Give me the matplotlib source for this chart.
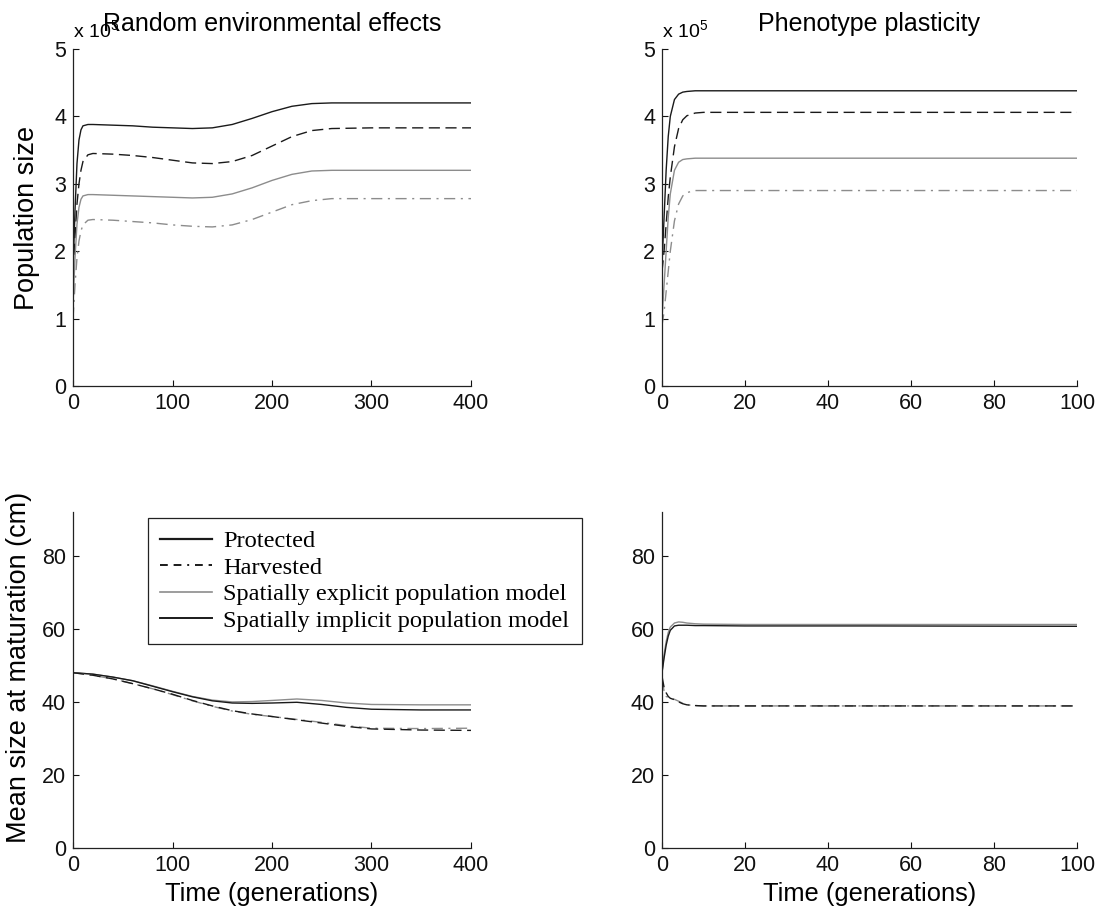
import matplotlib
matplotlib.use("Agg")
import matplotlib.pyplot as plt
from matplotlib.lines import Line2D

plt.rcParams['font.family'] = ['Liberation Sans', 'DejaVu Sans']
plt.rcParams['mathtext.default'] = 'regular'

# ---- data (population in units of 1e5, size in cm) ----
t_env = [0, 2, 4, 6, 8, 10, 15, 20, 40, 60, 80, 100, 120, 140, 160, 180, 200, 220, 240, 260, 300, 350, 400]
pop_env_prot_impl = [1.7, 2.6, 3.3, 3.65, 3.8, 3.86, 3.88, 3.88, 3.87, 3.86, 3.84, 3.83, 3.82, 3.83, 3.88, 3.97, 4.07, 4.15, 4.19, 4.2, 4.2, 4.2, 4.2]
pop_env_harv_impl = [1.7, 2.2, 2.7, 3.0, 3.2, 3.33, 3.43, 3.45, 3.44, 3.42, 3.39, 3.35, 3.31, 3.30, 3.33, 3.42, 3.56, 3.7, 3.79, 3.82, 3.83, 3.83, 3.83]
pop_env_prot_expl = [1.2, 1.9, 2.4, 2.65, 2.77, 2.82, 2.84, 2.84, 2.83, 2.82, 2.81, 2.80, 2.79, 2.80, 2.85, 2.94, 3.05, 3.14, 3.19, 3.2, 3.2, 3.2, 3.2]
pop_env_harv_expl = [1.0, 1.5, 1.9, 2.15, 2.3, 2.39, 2.46, 2.47, 2.46, 2.44, 2.42, 2.39, 2.37, 2.36, 2.39, 2.47, 2.58, 2.69, 2.75, 2.78, 2.78, 2.78, 2.78]

t_pl = [0, 0.5, 1, 1.5, 2, 3, 4, 5, 6, 8, 10, 20, 50, 100]
pop_pl_prot_impl = [1.8, 2.5, 3.2, 3.7, 4.0, 4.25, 4.33, 4.36, 4.37, 4.38, 4.38, 4.38, 4.38, 4.38]
pop_pl_harv_impl = [1.7, 2.0, 2.4, 2.8, 3.1, 3.55, 3.82, 3.95, 4.01, 4.05, 4.06, 4.06, 4.06, 4.06]
pop_pl_prot_expl = [1.0, 1.5, 2.0, 2.5, 2.85, 3.2, 3.32, 3.36, 3.37, 3.38, 3.38, 3.38, 3.38, 3.38]
pop_pl_harv_expl = [0.9, 1.1, 1.4, 1.7, 2.0, 2.45, 2.7, 2.82, 2.87, 2.9, 2.9, 2.9, 2.9, 2.9]

t_env2 = [0, 20, 40, 60, 80, 100, 120, 140, 160, 180, 200, 225, 250, 275, 300, 350, 400]
size_env_prot_expl = [48, 47.6, 46.8, 45.8, 44.4, 42.9, 41.5, 40.5, 40.0, 40.1, 40.4, 40.8, 40.4, 39.7, 39.3, 39.2, 39.2]
size_env_prot_impl = [48, 47.6, 46.8, 45.8, 44.3, 42.8, 41.4, 40.3, 39.7, 39.6, 39.7, 39.9, 39.3, 38.5, 38.0, 37.8, 37.8]
size_env_harv_impl = [48, 47.3, 46.3, 45.0, 43.6, 42.1, 40.4, 38.9, 37.6, 36.7, 36.0, 35.1, 34.2, 33.3, 32.6, 32.3, 32.2]
size_env_harv_expl = [48, 47.3, 46.3, 45.0, 43.6, 42.0, 40.3, 38.8, 37.5, 36.6, 36.0, 35.2, 34.4, 33.5, 32.8, 32.7, 32.8]

size_pl_prot_expl = [48, 53, 56.5, 59, 60.5, 61.6, 61.9, 61.8, 61.6, 61.4, 61.3, 61.2, 61.2, 61.2]
size_pl_prot_impl = [48, 52, 55.5, 58, 59.6, 60.8, 61.0, 61.0, 61.0, 60.9, 60.9, 60.8, 60.8, 60.7]
size_pl_harv_impl = [47, 44, 42.5, 41.5, 41.0, 40.6, 40.0, 39.5, 39.2, 39.0, 38.9, 38.9, 38.9, 38.9]
size_pl_harv_expl = [46, 43, 41.5, 41.2, 41.0, 40.7, 40.2, 39.6, 39.2, 39.0, 38.9, 38.9, 38.9, 38.9]

legend_labels = ['Protected', 'Harvested', 'Spatially explicit population model',
                 'Spatially implicit population model']

BLACK = '#1a1a1a'
GRAY = '#8c8c8c'
DASH_B = (0, (8, 4))
DASH_G = (0, (8, 4, 1.5, 4))
LW = 1.0

fig = plt.figure(figsize=(11.16, 9.17), dpi=100)
W, H = 1116, 917


def make_ax(left, top, right, bottom):
    return fig.add_axes([left / W, 1 - bottom / H, (right - left) / W, (bottom - top) / H])


ax_tl = make_ax(73, 49, 471, 386)
ax_tr = make_ax(662, 49, 1077, 386)
ax_bl = make_ax(73, 512, 471, 848)
ax_br = make_ax(662, 512, 1077, 848)

for ax in [ax_tl, ax_tr, ax_bl, ax_br]:
    ax.spines['top'].set_visible(False)
    ax.spines['right'].set_visible(False)
    for s in ['left', 'bottom']:
        ax.spines[s].set_linewidth(0.9)
        ax.spines[s].set_color('#222222')
    ax.tick_params(direction='in', length=4, width=0.8, labelsize=15.5, pad=5, colors='#111111')

# top left
ax_tl.plot(t_env, pop_env_prot_impl, color=BLACK, lw=LW)
ax_tl.plot(t_env, pop_env_harv_impl, color=BLACK, lw=LW, linestyle=DASH_B)
ax_tl.plot(t_env, pop_env_prot_expl, color=GRAY, lw=LW)
ax_tl.plot(t_env, pop_env_harv_expl, color=GRAY, lw=LW, linestyle=DASH_G)
ax_tl.set_xlim(0, 400)
ax_tl.set_ylim(0, 5)
ax_tl.set_xticks([0, 100, 200, 300, 400])
ax_tl.set_yticks([0, 1, 2, 3, 4, 5])
ax_tl.set_title('Random environmental effects', fontsize=18, pad=13)
ax_tl.set_ylabel('Population size', fontsize=19.5)
ax_tl.yaxis.set_label_coords(-0.083, 0.5)

# top right
ax_tr.plot(t_pl, pop_pl_prot_impl, color=BLACK, lw=LW)
ax_tr.plot(t_pl, pop_pl_harv_impl, color=BLACK, lw=LW, linestyle=DASH_B)
ax_tr.plot(t_pl, pop_pl_prot_expl, color=GRAY, lw=LW)
ax_tr.plot(t_pl, pop_pl_harv_expl, color=GRAY, lw=LW, linestyle=DASH_G)
ax_tr.set_xlim(0, 100)
ax_tr.set_ylim(0, 5)
ax_tr.set_xticks([0, 20, 40, 60, 80, 100])
ax_tr.set_yticks([0, 1, 2, 3, 4, 5])
ax_tr.set_title('Phenotype plasticity', fontsize=18, pad=13)

# exponent label sits under the title on the left panel, as in the original
for ax in [ax_tl, ax_tr]:
    ax.text(0.0, 1.035, r'x 10$^{5}$', transform=ax.transAxes, fontsize=14,
            ha='left', va='baseline')

# bottom left
ax_bl.plot(t_env2, size_env_prot_expl, color=GRAY, lw=LW)
ax_bl.plot(t_env2, size_env_prot_impl, color=BLACK, lw=LW)
ax_bl.plot(t_env2, size_env_harv_expl, color=GRAY, lw=LW, linestyle=DASH_G)
ax_bl.plot(t_env2, size_env_harv_impl, color=BLACK, lw=LW, linestyle=DASH_B)
ax_bl.set_xlim(0, 400)
ax_bl.set_ylim(0, 92)
ax_bl.set_xticks([0, 100, 200, 300, 400])
ax_bl.set_yticks([0, 20, 40, 60, 80])
ax_bl.set_ylabel('Mean size at maturation (cm)', fontsize=19.5)
ax_bl.yaxis.set_label_coords(-0.103, 0.536)

# bottom right
ax_br.plot(t_pl, size_pl_prot_expl, color=GRAY, lw=LW)
ax_br.plot(t_pl, size_pl_prot_impl, color=BLACK, lw=LW)
ax_br.plot(t_pl, size_pl_harv_expl, color=GRAY, lw=LW, linestyle=DASH_G)
ax_br.plot(t_pl, size_pl_harv_impl, color=BLACK, lw=LW, linestyle=DASH_B)
ax_br.set_xlim(0, 100)
ax_br.set_ylim(0, 92)
ax_br.set_xticks([0, 20, 40, 60, 80, 100])
ax_br.set_yticks([0, 20, 40, 60, 80])

for ax in [ax_bl, ax_br]:
    ax.set_xlabel('Time (generations)', fontsize=18.4)
    ax.xaxis.set_label_coords(0.5, -0.10)

handles = [
    Line2D([], [], color=BLACK, lw=1.6),
    Line2D([], [], color=BLACK, lw=1.4, linestyle=(0, (4, 3, 4, 3, 1, 3))),
    Line2D([], [], color=GRAY, lw=1.2),
    Line2D([], [], color=BLACK, lw=1.4),
]
leg = fig.legend(handles, legend_labels, loc='upper left',
                 bbox_to_anchor=(148 / W, 1 - 518 / H), borderaxespad=0,
                 prop={'family': 'Liberation Serif', 'size': 17.6},
                 fancybox=False, framealpha=1, edgecolor='#222222',
                 handlelength=2.13, labelspacing=0.18, borderpad=0.5,
                 handletextpad=0.45)
leg.get_frame().set_linewidth(0.9)

fig.savefig('out.png', dpi=100)
